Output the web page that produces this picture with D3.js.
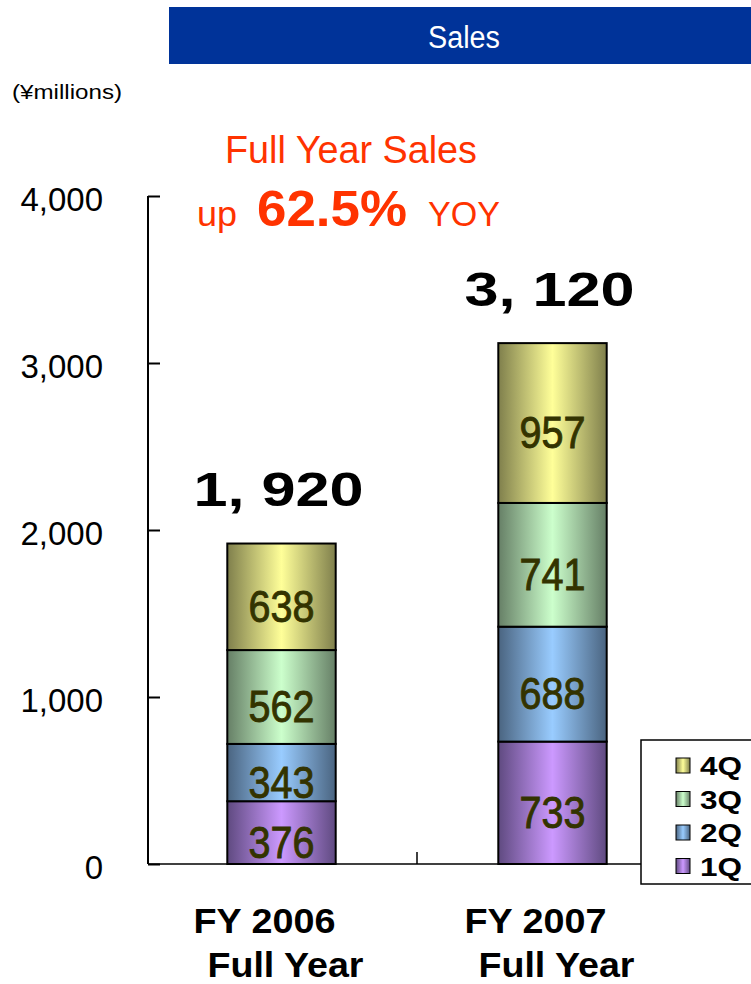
<!DOCTYPE html>
<html lang="en">
<head>
  <meta charset="UTF-8">
  <title>Sales</title>
  <script src="https://cdn.jsdelivr.net/npm/d3@7"></script>
  <style>
    body { margin: 0; background: #fff; }
    svg { display: block; font-family: "Liberation Sans", Arial, sans-serif; }
  </style>
</head>
<body>
<div id="chart"></div>
<script>
  // data
  var years = ["FY 2006", "FY 2007"];
  var quarters = ["1Q", "2Q", "3Q", "4Q"];
  var q1 = [376, 733];
  var q2 = [343, 688];
  var q3 = [562, 741];
  var q4 = [638, 957];
  var totals = [1920, 3120];
  var totalLabels = ["1, 920", "3, 120"];
  var yTicks = [0, 1000, 2000, 3000, 4000];

  var colors = {
    "1Q": ["#CC99FF", "#5f4a80"],
    "2Q": ["#99CCFF", "#4a6480"],
    "3Q": ["#CCFFCC", "#667f66"],
    "4Q": ["#FFFF99", "#7f7f4c"]
  };

  var width = 751, height = 984;
  var svg = d3.select("#chart").append("svg")
      .attr("width", width).attr("height", height);

  var defs = svg.append("defs");
  quarters.forEach(function(q) {
    var g = defs.append("linearGradient").attr("id", "grad" + q)
        .attr("x1", "0%").attr("x2", "100%").attr("y1", "0%").attr("y2", "0%");
    g.append("stop").attr("offset", "0%").attr("stop-color", colors[q][1]);
    g.append("stop").attr("offset", "50%").attr("stop-color", colors[q][0]);
    g.append("stop").attr("offset", "100%").attr("stop-color", colors[q][1]);
  });

  // title banner
  svg.append("rect").attr("x", 169).attr("y", 7).attr("width", 582).attr("height", 57)
      .attr("fill", "#003399");
  svg.append("text").attr("x", 464).attr("y", 48).attr("text-anchor", "middle")
      .attr("fill", "#fff").attr("font-size", 31)
      .attr("textLength", 72).attr("lengthAdjust", "spacingAndGlyphs").text("Sales");

  svg.append("text").attr("x", 12).attr("y", 99).attr("font-size", 21)
      .attr("textLength", 110).attr("lengthAdjust", "spacingAndGlyphs")
      .text("(¥millions)");

  // headline
  var red = "#FF3300";
  svg.append("text").attr("x", 225).attr("y", 163)
      .attr("fill", red).attr("font-size", 38)
      .attr("textLength", 252).attr("lengthAdjust", "spacingAndGlyphs").text("Full Year Sales");
  svg.append("text").attr("x", 197).attr("y", 226).attr("fill", red).attr("font-size", 35)
      .attr("textLength", 40).attr("lengthAdjust", "spacingAndGlyphs").text("up");
  svg.append("text").attr("x", 257).attr("y", 226).attr("fill", red).attr("font-size", 50)
      .attr("font-weight", "bold")
      .attr("textLength", 150).attr("lengthAdjust", "spacingAndGlyphs").text("62.5%");
  svg.append("text").attr("x", 428).attr("y", 226).attr("fill", red).attr("font-size", 35)
      .attr("textLength", 72).attr("lengthAdjust", "spacingAndGlyphs").text("YOY");

  // scales
  var x0 = 148;
  var x = d3.scaleBand().domain(years).range([146, 688]).paddingInner(0.6).paddingOuter(0.3);
  var y = d3.scaleLinear().domain([0, 4000]).range([864, 196]);

  // y axis
  var yAxis = svg.append("g").attr("transform", "translate(" + x0 + ",0)")
      .call(d3.axisRight(y).tickValues(yTicks).tickSize(12).tickFormat(""));
  yAxis.select(".domain").remove();
  yAxis.selectAll("line").attr("stroke", "#000").attr("stroke-width", 2);
  svg.append("line").attr("x1", x0).attr("x2", x0).attr("y1", y(4000)).attr("y2", y(0))
      .attr("stroke", "#000").attr("stroke-width", 2);
  svg.selectAll("text.ytick").data(yTicks).enter().append("text")
      .attr("class", "ytick")
      .attr("x", 103).attr("y", function(d) { return y(d) + 15; })
      .attr("text-anchor", "end").attr("font-size", 33)
      .text(function(d) { return d3.format(",")(d); });

  // x axis baseline to legend
  svg.append("line").attr("x1", x0).attr("x2", 641).attr("y1", y(0)).attr("y2", y(0))
      .attr("stroke", "#000").attr("stroke-width", 1.5);
  var sep = (x(years[0]) + x.bandwidth() + x(years[1])) / 2;
  svg.append("line").attr("x1", sep).attr("x2", sep).attr("y1", y(0)).attr("y2", y(0) - 12)
      .attr("stroke", "#000").attr("stroke-width", 1.5);

  // stacked bars
  var rows = years.map(function(yr, i) {
    return {year: yr, "1Q": q1[i], "2Q": q2[i], "3Q": q3[i], "4Q": q4[i]};
  });
  var series = d3.stack().keys(quarters)(rows);

  var layers = svg.selectAll("g.layer").data(series).enter().append("g").attr("class", "layer");
  layers.selectAll("rect").data(function(s) { return s.map(function(d) { d.key = s.key; return d; }); })
    .enter().append("rect")
      .attr("x", function(d) { return x(d.data.year); })
      .attr("width", x.bandwidth())
      .attr("y", function(d) { return y(d[1]); })
      .attr("height", function(d) { return y(d[0]) - y(d[1]); })
      .attr("fill", function(d) { return "url(#grad" + d.key + ")"; })
      .attr("stroke", "#000").attr("stroke-width", 2);
  layers.selectAll("text").data(function(s) { return s; })
    .enter().append("text")
      .attr("x", function(d) { return x(d.data.year) + x.bandwidth() / 2; })
      .attr("y", function(d) { return (y(d[0]) + y(d[1])) / 2 + 25; })
      .attr("text-anchor", "middle").attr("font-size", 44).attr("fill", "#333300")
      .attr("stroke", "#333300").attr("stroke-width", 0.9)
      .attr("textLength", 66).attr("lengthAdjust", "spacingAndGlyphs")
      .text(function(d) { return d[1] - d[0]; });

  // totals
  svg.selectAll("text.total").data(years).enter().append("text")
      .attr("class", "total")
      .attr("x", function(d, i) { return x(d) + x.bandwidth() / 2 - 3 - 85; })
      .attr("y", function(d, i) { return y(totals[i]) - 37; })
      .attr("font-size", 49).attr("font-weight", "bold")
      .attr("textLength", 170).attr("lengthAdjust", "spacingAndGlyphs")
      .text(function(d, i) { return totalLabels[i]; });

  // category labels
  years.forEach(function(yr, i) {
    var cx = x(yr) + x.bandwidth() / 2;
    svg.append("text").attr("x", cx - 17 - 71).attr("y", 933)
        .attr("font-size", 35).attr("font-weight", "bold")
        .attr("textLength", 142).attr("lengthAdjust", "spacingAndGlyphs").text(yr);
    svg.append("text").attr("x", cx + 4 - 78).attr("y", 977)
        .attr("font-size", 35).attr("font-weight", "bold")
        .attr("textLength", 156).attr("lengthAdjust", "spacingAndGlyphs").text("Full Year");
  });

  // legend
  svg.append("rect").attr("x", 641).attr("y", 740).attr("width", 120).attr("height", 144)
      .attr("fill", "#fff").attr("stroke", "#000").attr("stroke-width", 1.5);
  var legendItems = quarters.slice().reverse();
  var lg = svg.selectAll("g.leg").data(legendItems).enter().append("g")
      .attr("class", "leg")
      .attr("transform", function(d, i) { return "translate(676," + (758 + i * 33.5) + ")"; });
  lg.append("rect").attr("width", 14).attr("height", 15)
      .attr("fill", function(d) { return "url(#grad" + d + ")"; })
      .attr("stroke", "#000").attr("stroke-width", 1);
  lg.append("text").attr("x", 24).attr("y", 17).attr("font-size", 25).attr("font-weight", "bold")
      .attr("textLength", 42).attr("lengthAdjust", "spacingAndGlyphs")
      .text(function(d) { return d; });
</script>
</body>
</html>
